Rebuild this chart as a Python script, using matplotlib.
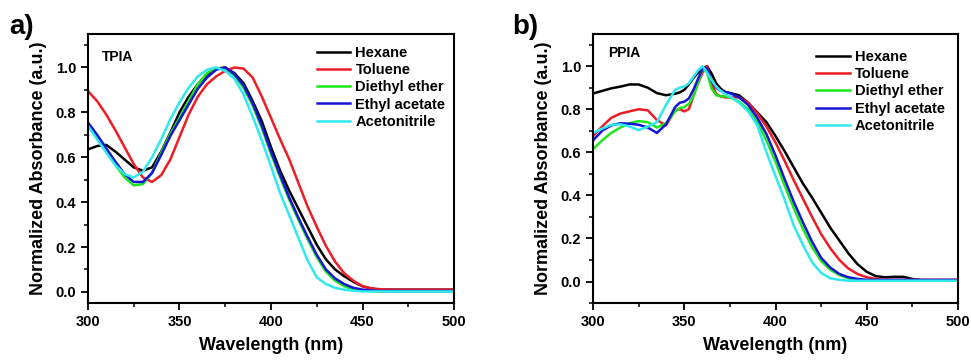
import matplotlib
matplotlib.use('Agg')

from matplotlib import pyplot as plt
from matplotlib.ticker import MultipleLocator

plt.rcParams['font.family'] = ['Liberation Sans', 'DejaVu Sans']
plt.rcParams['font.weight'] = 'bold'

solvents = ['Hexane', 'Toluene', 'Diethyl ether', 'Ethyl acetate', 'Acetonitrile']
colors = ['#000000', '#ee1c24', '#1ee61e', '#1515d6', '#30e8f0']

# TPIA, 300-500 nm every 5 nm
wl_a = list(range(300, 505, 5))
hex_a = [0.635, 0.65, 0.655, 0.625, 0.59, 0.555, 0.54, 0.555, 0.625, 0.71,
         0.80, 0.87, 0.925, 0.97, 0.995, 1.0, 0.975, 0.93, 0.85, 0.76,
         0.645, 0.54, 0.45, 0.37, 0.29, 0.21, 0.145, 0.10, 0.07, 0.045,
         0.025, 0.015, 0.01, 0.01, 0.01, 0.01, 0.01, 0.01, 0.01, 0.01, 0.01]
tol_a = [0.895, 0.85, 0.79, 0.72, 0.645, 0.57, 0.51, 0.49, 0.52, 0.59,
         0.69, 0.79, 0.87, 0.925, 0.96, 0.985, 1.0, 0.995, 0.955, 0.87,
         0.775, 0.68, 0.59, 0.485, 0.38, 0.29, 0.205, 0.135, 0.083, 0.05,
         0.025, 0.015, 0.012, 0.01, 0.01, 0.01, 0.01, 0.01, 0.01, 0.01, 0.01]
dee_a = [0.74, 0.685, 0.625, 0.565, 0.51, 0.475, 0.48, 0.53, 0.62, 0.705,
         0.775, 0.85, 0.925, 0.975, 0.998, 0.995, 0.965, 0.91, 0.83, 0.73,
         0.615, 0.51, 0.41, 0.32, 0.235, 0.155, 0.09, 0.05, 0.025, 0.012,
         0.006, 0.004, 0.003, 0.003, 0.003, 0.003, 0.003, 0.003, 0.003, 0.003, 0.003]
eta_a = [0.755, 0.70, 0.64, 0.58, 0.525, 0.49, 0.49, 0.53, 0.61, 0.695,
         0.765, 0.835, 0.905, 0.955, 0.99, 1.0, 0.97, 0.92, 0.84, 0.74,
         0.625, 0.52, 0.42, 0.33, 0.245, 0.165, 0.10, 0.06, 0.035, 0.018,
         0.01, 0.006, 0.004, 0.004, 0.004, 0.004, 0.004, 0.004, 0.004, 0.004, 0.004]
ace_a = [0.74, 0.68, 0.62, 0.565, 0.525, 0.51, 0.535, 0.60, 0.68, 0.77,
         0.845, 0.91, 0.96, 0.99, 1.0, 0.985, 0.95, 0.88, 0.78, 0.675,
         0.56, 0.44, 0.34, 0.24, 0.14, 0.065, 0.035, 0.018, 0.01, 0.005,
         0.002, 0.002, 0.002, 0.002, 0.002, 0.002, 0.002, 0.002, 0.002, 0.002, 0.002]

# PPIA, finer steps around the sharp band
wl_b = [300, 305, 310, 315, 320, 325, 330, 335, 340, 345,
        347.5, 350, 352.5, 355, 357.5, 360, 362.5, 365, 367.5, 370, 372.5] + list(range(375, 505, 5))
hex_b = [0.873, 0.885, 0.897, 0.905, 0.915, 0.915, 0.90, 0.875, 0.865, 0.872,
         0.878, 0.89, 0.915, 0.945, 0.97, 0.99, 1.0, 0.965, 0.92, 0.895, 0.88,
         0.875, 0.865, 0.83, 0.785, 0.74, 0.675, 0.605, 0.53, 0.455, 0.39,
         0.32, 0.25, 0.19, 0.13, 0.08, 0.045, 0.025, 0.02, 0.022, 0.022,
         0.012, 0.006, 0.005, 0.005, 0.005, 0.005]
tol_b = [0.675, 0.72, 0.76, 0.78, 0.79, 0.80, 0.795, 0.75, 0.725, 0.795,
         0.80, 0.79, 0.80, 0.86, 0.92, 0.97, 1.0, 0.92, 0.87, 0.86, 0.855,
         0.855, 0.855, 0.83, 0.78, 0.72, 0.645, 0.56, 0.47, 0.385, 0.30,
         0.22, 0.155, 0.10, 0.06, 0.035, 0.02, 0.012, 0.008, 0.008, 0.008,
         0.008, 0.008, 0.008, 0.008, 0.008, 0.008]
dee_b = [0.615, 0.655, 0.69, 0.715, 0.735, 0.745, 0.74, 0.715, 0.735, 0.79,
         0.805, 0.81, 0.825, 0.86, 0.92, 0.99, 0.97, 0.895, 0.865, 0.86, 0.86,
         0.855, 0.835, 0.80, 0.74, 0.655, 0.555, 0.445, 0.34, 0.245, 0.16,
         0.095, 0.055, 0.03, 0.015, 0.008, 0.005, 0.005, 0.005, 0.005, 0.005,
         0.005, 0.005, 0.005, 0.005, 0.005, 0.005]
eta_b = [0.655, 0.70, 0.725, 0.735, 0.733, 0.728, 0.715, 0.69, 0.73, 0.81,
         0.83, 0.835, 0.85, 0.89, 0.94, 0.99, 0.99, 0.93, 0.90, 0.885, 0.88,
         0.875, 0.855, 0.82, 0.76, 0.685, 0.585, 0.475, 0.37, 0.275, 0.185,
         0.11, 0.065, 0.035, 0.02, 0.012, 0.008, 0.008, 0.008, 0.008, 0.008,
         0.008, 0.008, 0.008, 0.008, 0.008, 0.008]
ace_b = [0.69, 0.71, 0.728, 0.73, 0.72, 0.703, 0.72, 0.74, 0.82, 0.89,
         0.90, 0.905, 0.92, 0.95, 0.98, 1.0, 0.97, 0.935, 0.905, 0.885, 0.87,
         0.86, 0.83, 0.79, 0.725, 0.60, 0.49, 0.38, 0.26, 0.17, 0.09,
         0.04, 0.015, 0.008, 0.004, 0.004, 0.004, 0.004, 0.004, 0.004, 0.004,
         0.004, 0.004, 0.004, 0.004, 0.004, 0.004]

panels = [
    dict(rect=[0.0906, 0.158, 0.377, 0.748], wl=wl_a,
         series=[hex_a, tol_a, dee_a, eta_a, ace_a], ylim=(-0.05, 1.15),
         name='TPIA', name_pos=(0.038, 0.915), letter='a)', letter_x=0.010,
         leg_anchor=(0.625, 0.955)),
    dict(rect=[0.6107, 0.158, 0.376, 0.748], wl=wl_b,
         series=[hex_b, tol_b, dee_b, eta_b, ace_b], ylim=(-0.1, 1.15),
         name='PPIA', name_pos=(0.041, 0.93), letter='b)', letter_x=0.528,
         leg_anchor=(0.612, 0.94)),
]

fig = plt.figure(figsize=(9.71, 3.6), dpi=100)

for p in panels:
    ax = fig.add_axes(p['rect'])
    for label, ys, c in zip(solvents, p['series'], colors):
        ax.plot(p['wl'], ys, color=c, lw=1.8, label=label)
    ax.set_xlim(300, 500)
    ax.set_ylim(*p['ylim'])
    ax.xaxis.set_major_locator(MultipleLocator(50))
    ax.xaxis.set_minor_locator(MultipleLocator(25))
    ax.yaxis.set_major_locator(MultipleLocator(0.2))
    ax.yaxis.set_minor_locator(MultipleLocator(0.1))
    ax.yaxis.set_major_formatter(plt.FormatStrFormatter('%.1f'))
    ax.tick_params(which='major', direction='out', length=5, width=1.3, labelsize=10.5)
    ax.tick_params(which='minor', direction='out', length=3, width=1.1)
    for s in ax.spines.values():
        s.set_linewidth(1.5)
    ax.set_xlabel('Wavelength (nm)', fontsize=13, fontweight='bold', labelpad=6)
    ax.set_ylabel('Normalized Absorbance (a.u.)', fontsize=13, fontweight='bold', labelpad=6)
    ax.text(p['name_pos'][0], p['name_pos'][1], p['name'], transform=ax.transAxes,
            fontsize=10, fontweight='bold', va='center')
    ax.legend(loc='upper left', bbox_to_anchor=p['leg_anchor'], frameon=False,
              fontsize=10.5, handlelength=2.3, handletextpad=0.35,
              labelspacing=0.22, borderpad=0, borderaxespad=0)
    fig.text(p['letter_x'], 0.925, p['letter'], fontsize=20, fontweight='bold', va='center')

plt.savefig('out.png', dpi=100)
plt.close()
